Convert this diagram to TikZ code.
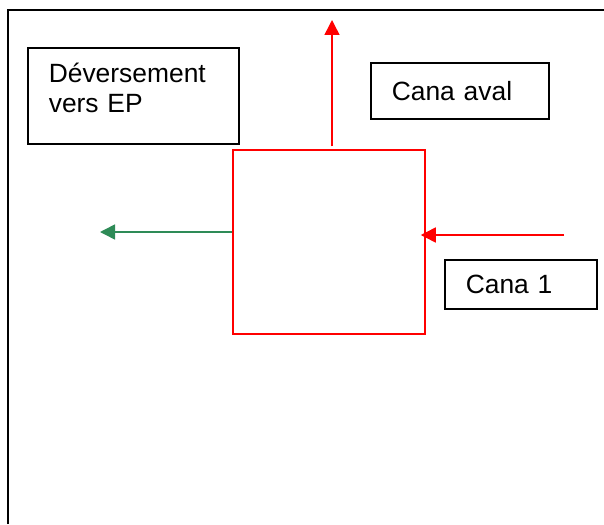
\documentclass[tikz,border=0pt]{standalone}
\usepackage{fontspec}
\setmainfont{Liberation Sans}
\usepackage{tikz}
\usetikzlibrary{arrows.meta}
\definecolor{vertfleche}{RGB}{46,139,87}
\tikzset{
  boite/.style={draw, line width=0.8pt, anchor=north west, align=left, inner xsep=10.5pt, inner ysep=0pt},
  rouge/.style={draw=red, line width=0.75pt, -{Triangle[length=7.5pt, width=7.5pt]}, red},
  vert/.style={draw=vertfleche, line width=0.75pt, -{Triangle[length=7.5pt, width=7.5pt]}, vertfleche}
}

\begin{document}
\begin{tikzpicture}[x=0.5pt, y=-0.5pt, font=\fontsize{13.2}{15}\selectfont]
\useasboundingbox (0,0) rectangle (604,524);
\draw[line width=1pt] (7.5,524) -- (7.5,10) -- (604,10);
\node[draw=red, line width=0.75pt, minimum width=96pt, minimum height=92pt, inner sep=0pt] (regard) at (329,242) {};
\node[boite, text width=84.5pt, minimum height=48pt, text depth=23pt] (deversement) at (27,47) {D\'eversement\\vers EP};
\node[boite, text width=68pt, minimum height=28pt] (aval) at (370,62) {Cana aval};
\node[boite, text width=55pt, minimum height=24.5pt] (cana) at (444,259) {Cana 1};
\coordinate (sortie) at (332,20);
\coordinate (entree) at (564,235);
\coordinate (rejet) at (100,232);
\draw[rouge] ([yshift=1.5pt]regard.north -| sortie) -- (sortie);
\draw[rouge, shorten >=-2.5pt] (entree) -- (entree -| regard.east);
\draw[vert] (regard.west |- rejet) -- (rejet);
\end{tikzpicture}
\end{document}
